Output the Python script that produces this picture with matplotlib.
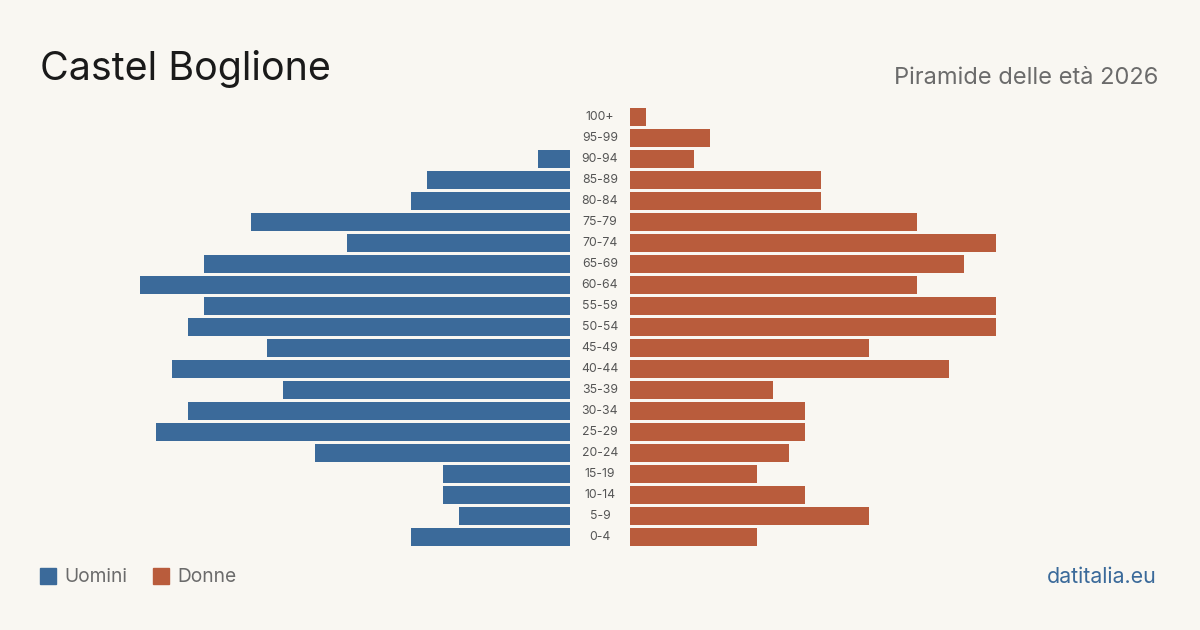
import matplotlib as mpl
mpl.use("Agg")
import matplotlib.pyplot as plt
from matplotlib.patches import Rectangle

plt.rcParams['font.family'] = ['Inter', 'DejaVu Sans']

# age groups, bottom to top
ages = ["0-4", "5-9", "10-14", "15-19", "20-24", "25-29", "30-34", "35-39",
        "40-44", "45-49", "50-54", "55-59", "60-64", "65-69", "70-74",
        "75-79", "80-84", "85-89", "90-94", "95-99", "100+"]
men = [10, 7, 8, 8, 16, 26, 24, 18, 25, 19, 24, 23, 27, 23, 14, 20, 10, 9, 2, 0, 0]
women = [8, 15, 11, 8, 10, 11, 11, 9, 20, 15, 23, 23, 18, 21, 23, 18, 12, 12, 4, 5, 1]

bg = "#f9f7f2"
blue = "#3b6a9a"
orange = "#b95c3c"

W, H = 1200, 630
fig = plt.figure(figsize=(12, 6.3), dpi=100, facecolor=bg)

xmax = 27
ybot = 547.5
bottom = (H - ybot) / H
height = 441 / H
axl = fig.add_axes([140 / W, bottom, 430 / W, height])
axr = fig.add_axes([630 / W, bottom, 430 / W, height])

y = range(len(ages))
axl.barh(y, men, height=0.81, color=blue)
axr.barh(y, women, height=0.81, color=orange)
axl.set_xlim(xmax, 0)
axr.set_xlim(0, xmax)
for ax in (axl, axr):
    ax.set_ylim(-0.5, len(ages) - 0.5)
    ax.axis("off")
    ax.set_facecolor("none")

for i, a in enumerate(ages):
    yy = ybot - 21 * (i + 0.5)
    fig.text(600 / W, (H - yy) / H, a, ha="center", va="center",
             fontsize=8.8, color="#555555")

fig.text(40 / W, (H - 80) / H, "Castel Boglione", fontsize=28.4,
         color="#1a1a1a", ha="left", va="baseline")
fig.text(1158 / W, (H - 84) / H, "Piramide delle età 2026", fontsize=17,
         color="#6b6b6b", ha="right", va="baseline")

# legend
fig.patches.append(Rectangle((40 / W, (H - 584) / H), 16 / W, 16 / H,
                             transform=fig.transFigure, color=blue))
fig.text(64 / W, (H - 577) / H, "Uomini", fontsize=13.8, color="#6b6b6b",
         ha="left", va="center")
fig.patches.append(Rectangle((153 / W, (H - 584) / H), 16 / W, 16 / H,
                             transform=fig.transFigure, color=orange))
fig.text(177 / W, (H - 577) / H, "Donne", fontsize=13.8, color="#6b6b6b",
         ha="left", va="center")

fig.text(1157 / W, (H - 577) / H, "datitalia.eu", fontsize=15.4, color=blue,
         ha="right", va="center")

fig.savefig("out.png", dpi=100, facecolor=bg)
